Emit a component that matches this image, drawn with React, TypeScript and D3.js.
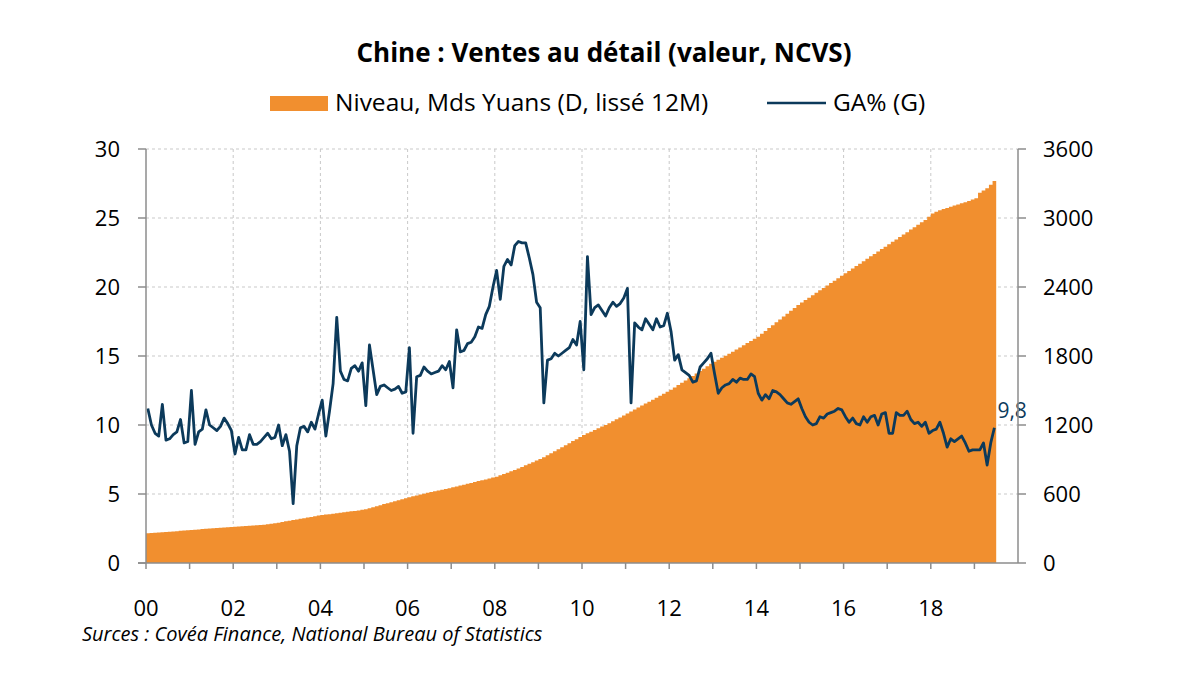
import React from "react";
import * as d3 from "d3";

// ---- Data ----
const yearLabels = ["00", "02", "04", "06", "08", "10", "12", "14", "16", "18"];
const leftTicks = [0, 5, 10, 15, 20, 25, 30];
const rightTicks = [0, 600, 1200, 1800, 2400, 3000, 3600];

// GA% (G) : monthly year-on-year growth, Jan 2000 -> Jun 2019
const growthYoY = [
  11.2, 10.0, 9.4, 9.2, 11.5, 8.9, 9.0, 9.3, 9.5, 10.4, 8.7, 8.8,
  12.5, 8.6, 9.5, 9.7, 11.1, 10.0, 9.8, 9.6, 9.9, 10.5, 10.1, 9.6,
  7.9, 9.1, 8.2, 8.2, 9.3, 8.6, 8.6, 8.8, 9.1, 9.4, 9.0, 9.1,
  10.0, 8.5, 9.3, 8.1, 4.3, 8.5, 9.8, 9.9, 9.5, 10.2, 9.7, 10.8,
  11.8, 9.2, 11.0, 13.0, 17.8, 13.9, 13.3, 13.2, 14.1, 14.3, 13.9, 14.5,
  11.4, 15.8, 14.0, 12.2, 12.8, 12.9, 12.7, 12.5, 12.6, 12.8, 12.3, 12.4,
  15.6, 9.4, 13.5, 13.6, 14.2, 13.9, 13.7, 13.8, 13.9, 14.3, 14.0, 14.6,
  12.7, 16.9, 15.3, 15.4, 15.9, 16.0, 16.4, 17.1, 17.0, 18.0, 18.6, 20.0,
  21.2, 19.1, 21.5, 22.0, 21.6, 23.0, 23.3, 23.2, 23.2, 22.1, 20.9, 18.9,
  18.5, 11.6, 14.7, 14.8, 15.2, 15.0, 15.2, 15.4, 15.6, 16.2, 15.8, 17.5,
  14.0, 22.2, 18.0, 18.5, 18.7, 18.3, 17.9, 18.5, 18.9, 18.6, 18.8, 19.2,
  19.9, 11.6, 17.4, 17.1, 16.9, 17.7, 17.3, 16.9, 17.7, 17.1, 17.2, 18.1,
  16.8, 14.7, 15.1, 14.0, 13.8, 13.6, 13.1, 13.2, 14.2, 14.5, 14.8, 15.2,
  13.7, 12.3, 12.7, 12.9, 13.0, 13.3, 13.1, 13.4, 13.3, 13.3, 13.7, 13.5,
  12.3, 11.8, 12.2, 11.9, 12.5, 12.4, 12.2, 11.9, 11.6, 11.5, 11.7, 11.9,
  11.2, 10.6, 10.2, 10.0, 10.1, 10.6, 10.5, 10.8, 10.9, 11.0, 11.2, 11.1,
  10.6, 10.2, 10.5, 10.1, 10.0, 10.6, 10.2, 10.6, 10.7, 10.0, 10.8, 10.9,
  9.4, 9.4, 10.9, 10.7, 10.7, 11.0, 10.4, 10.1, 10.2, 9.9, 10.2, 9.4,
  9.6, 9.7, 10.2, 9.4, 8.4, 9.0, 8.8, 9.0, 9.2, 8.7, 8.1, 8.2,
  8.2, 8.2, 8.7, 7.1, 8.7, 9.8,
];

// Niveau, Mds Yuans (D, lissé 12M) : monthly level, Jan 2000 -> Jun 2019
const levelSmoothed = [
  258, 260, 263, 265, 268, 270, 272, 275, 277, 280, 282, 285,
  287, 290, 292, 295, 297, 299, 302, 304, 307, 309, 311, 314,
  316, 318, 320, 322, 324, 326, 328, 330, 333, 337, 341, 346,
  351, 357, 363, 368, 374, 379, 385, 390, 396, 401, 406, 412,
  417, 421, 425, 429, 433, 437, 441, 445, 449, 453, 457, 462,
  468, 476, 485, 494, 503, 512, 520, 529, 537, 546, 554, 563,
  572, 580, 588, 596, 603, 610, 617, 624, 631, 637, 644, 650,
  658, 665, 673, 681, 689, 696, 704, 712, 720, 727, 735, 743,
  751, 762, 774, 785, 797, 808, 821, 835, 849, 863, 877, 891,
  905, 919, 936, 954, 972, 989, 1007, 1024, 1042, 1060, 1077, 1095,
  1113, 1128, 1142, 1157, 1171, 1186, 1200, 1215, 1232, 1249, 1266, 1283,
  1300, 1318, 1335, 1352, 1369, 1386, 1403, 1420, 1438, 1455, 1472, 1490,
  1507, 1527, 1547, 1567, 1587, 1606, 1627, 1648, 1669, 1690, 1711, 1732,
  1751, 1768, 1785, 1803, 1820, 1838, 1856, 1875, 1893, 1912, 1930, 1949,
  1968, 1993, 2018, 2043, 2068, 2093, 2118, 2143, 2168, 2193, 2218, 2243,
  2265, 2286, 2307, 2328, 2349, 2371, 2392, 2413, 2434, 2455, 2477, 2498,
  2519, 2540, 2561, 2582, 2603, 2625, 2646, 2667, 2688, 2709, 2730, 2751,
  2772, 2793, 2814, 2835, 2856, 2877, 2899, 2920, 2941, 2962, 2983, 3010,
  3040, 3055, 3068, 3078, 3088, 3098, 3108, 3118, 3128, 3138, 3148, 3160,
  3171, 3220, 3240, 3258, 3290, 3322,
];

const lastLabel = "9,8";

// ---- Layout ----
const W = 1200;
const H = 675;
const plot = { left: 146, right: 1018, top: 149, bottom: 563 };
const totalMonths = 240; // axis spans 2000 -> 2020
const ORANGE = "#F18F2F";
const NAVY = "#0C3A5B";
const AXIS = "#8C8C8C";
const GRID = "#C9C9C9";
const FONT = "'Open Sans', 'Noto Sans', sans-serif";

export default function App() {
  const x = d3.scaleLinear().domain([0, totalMonths]).range([plot.left, plot.right]);
  const yL = d3.scaleLinear().domain([0, 30]).range([plot.bottom, plot.top]);
  const yR = d3.scaleLinear().domain([0, 3600]).range([plot.bottom, plot.top]);

  const levelPts = levelSmoothed.map((v, i) => ({ i, v }));
  levelPts.push({ i: levelSmoothed.length, v: levelSmoothed[levelSmoothed.length - 1] });
  const area = d3
    .area<{ i: number; v: number }>()
    .x((d) => x(d.i))
    .y0(yR(0))
    .y1((d) => yR(d.v))
    .curve(d3.curveStepAfter);

  const line = d3
    .line<number>()
    .x((_, i) => x(i + 0.5))
    .y((v) => yL(v));

  const yearTicks = d3.range(0, 20).map((k) => k * 12);
  const lastIdx = growthYoY.length - 1;

  return (
    <svg
      width={W}
      height={H}
      viewBox={`0 0 ${W} ${H}`}
      style={{ position: "absolute", left: 0, top: 0, background: "#fff" }}
      fontFamily={FONT}
    >
      <rect x={0} y={0} width={W} height={H} fill="#fff" />
      {/* Title */}
      <text x={604} y={62} textAnchor="middle" fontSize={26} fontWeight="bold" fill="#000">
        Chine : Ventes au détail (valeur, NCVS)
      </text>

      {/* Legend */}
      <rect x={270} y={96} width={58} height={15} fill={ORANGE} />
      <text x={335} y={111} fontSize={24.5} fill="#000">
        Niveau, Mds Yuans (D, lissé 12M)
      </text>
      <line x1={767} x2={826} y1={103} y2={103} stroke={NAVY} strokeWidth={2.5} />
      <text x={833} y={111} fontSize={24.5} fill="#000">
        GA% (G)
      </text>

      {/* Horizontal gridlines */}
      {leftTicks.slice(1).map((t) => (
        <line
          key={"h" + t}
          x1={plot.left}
          x2={plot.right}
          y1={yL(t)}
          y2={yL(t)}
          stroke={GRID}
          strokeWidth={1}
          strokeDasharray="3,3"
        />
      ))}
      {/* Vertical gridlines every 2 years */}
      {yearTicks
        .filter((t, k) => k % 2 === 0 && t > 0)
        .map((t) => (
          <line
            key={"v" + t}
            x1={x(t)}
            x2={x(t)}
            y1={plot.top}
            y2={plot.bottom}
            stroke={GRID}
            strokeWidth={1}
            strokeDasharray="3,3"
          />
        ))}

      {/* Level area (right axis) */}
      <path d={area(levelPts) || ""} fill={ORANGE} />

      {/* Growth line (left axis) */}
      <path
        d={line(growthYoY) || ""}
        fill="none"
        stroke={NAVY}
        strokeWidth={2.8}
        strokeLinejoin="round"
      />

      {/* Last value label */}
      <text x={x(lastIdx + 0.5) + 3} y={418} fontSize={21} fill={NAVY}>
        {lastLabel}
      </text>

      {/* Left axis */}
      <line x1={plot.left} x2={plot.left} y1={plot.top} y2={plot.bottom} stroke={AXIS} strokeWidth={1.5} />
      {leftTicks.map((t) => (
        <g key={"l" + t}>
          <line x1={plot.left - 8} x2={plot.left} y1={yL(t)} y2={yL(t)} stroke={AXIS} strokeWidth={1.5} />
          <text x={120} y={yL(t) + 8} textAnchor="end" fontSize={22} fill="#000">
            {t}
          </text>
        </g>
      ))}

      {/* Right axis */}
      <line x1={plot.right} x2={plot.right} y1={plot.top} y2={plot.bottom} stroke={AXIS} strokeWidth={1.5} />
      {rightTicks.map((t) => (
        <g key={"r" + t}>
          <line x1={plot.right} x2={plot.right + 8} y1={yR(t)} y2={yR(t)} stroke={AXIS} strokeWidth={1.5} />
          <text x={1043} y={yR(t) + 8} textAnchor="start" fontSize={22} fill="#000">
            {t}
          </text>
        </g>
      ))}

      {/* X axis */}
      <line x1={plot.left - 8} x2={plot.right} y1={plot.bottom} y2={plot.bottom} stroke={AXIS} strokeWidth={1.5} />
      {yearTicks.map((t) => (
        <line key={"xt" + t} x1={x(t)} x2={x(t)} y1={plot.bottom} y2={plot.bottom + 6} stroke={AXIS} strokeWidth={1.5} />
      ))}
      {yearLabels.map((lab, k) => (
        <text key={"xl" + lab} x={x(k * 24)} y={616} textAnchor="middle" fontSize={22} fill="#000">
          {lab}
        </text>
      ))}

      {/* Source */}
      <text x={82} y={641} fontSize={20} fontStyle="italic" fill="#000">
        Surces : Covéa Finance, National Bureau of Statistics
      </text>
    </svg>
  );
}
